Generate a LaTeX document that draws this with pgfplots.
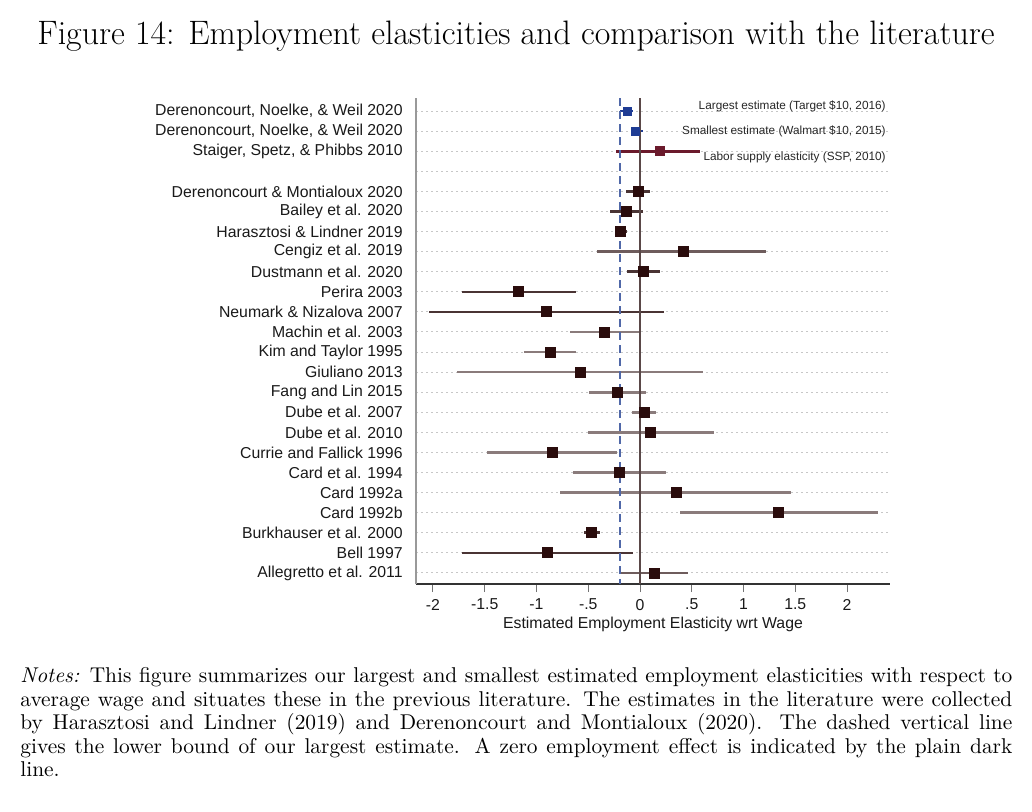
\documentclass[border=0pt]{standalone}
\usepackage{fontspec}
\usepackage{pgfplots}
\usepackage{pgfplotstable}
\pgfplotsset{compat=1.18}
\newfontfamily\plotfont{Liberation Sans}
\definecolor{cidark}{HTML}{4A3434}
\definecolor{cimed}{HTML}{6E5C5C}
\definecolor{cilight}{HTML}{8A7B7B}
\definecolor{markc}{HTML}{2A0C0C}
\definecolor{ownblue}{HTML}{1F3C94}
\definecolor{maroon}{HTML}{6B1A2C}
\definecolor{zeroc}{HTML}{5A4848}
\definecolor{dashc}{HTML}{5068A8}

% own estimates (rows 1-2), labour supply (row 3)
\pgfplotstableread{
row est lo hi
1 -0.12 -0.19 -0.07
2 -0.04 -0.09 0.03
}\own
\pgfplotstableread{
row est lo hi
3 0.19 -0.23 0.58
}\ssp
% literature
\pgfplotstableread{
row est lo hi
5 -0.02 -0.14 0.10
6 -0.135 -0.29 0.03
7 -0.19 -0.23 -0.13
9 0.03 -0.13 0.19
10 -1.17 -1.72 -0.62
11 -0.90 -2.04 0.23
22 -0.47 -0.54 -0.39
23 -0.89 -1.72 -0.065
}\litdark
\pgfplotstableread{
row est lo hi
8 0.42 -0.42 1.22
24 0.14 -0.18 0.46
}\litmed
\pgfplotstableread{
row est lo hi
12 -0.34 -0.68 0.00
13 -0.87 -1.12 -0.62
14 -0.58 -1.77 0.61
15 -0.22 -0.49 0.055
16 0.04 -0.08 0.155
17 0.097 -0.505 0.71
18 -0.85 -1.48 -0.22
19 -0.20 -0.65 0.25
20 0.35 -0.77 1.46
21 1.34 0.39 2.30
}\litlight

\pgfplotsset{
  cibar/.style={draw=none, mark=none, forget plot,
    error bars/.cd, x dir=both, x explicit, error mark=none,
    error bar style={draw=#1, line width=1.3bp}},
}

\begin{document}
\begin{tikzpicture}
\path[use as bounding box] (0,0) rectangle (516bp,406bp);
\node[anchor=base, inner sep=0] at (258bp,383.85bp)
  {\fontsize{16.95bp}{20bp}\selectfont Figure 14: Employment elasticities and comparison with the literature};
\begin{axis}[
  at={(208bp,114bp)}, anchor=south west,
  scale only axis, width=237bp, height=243bp,
  xmin=-2.164, xmax=2.415, ymin=0.35, ymax=24.55,
  y dir=reverse,
  axis x line*=bottom, axis y line*=left,
  x axis line style={-, draw=black!80, line width=0.6bp},
  y axis line style={-, draw=black!40, line width=0.8bp},
  xtick={-2,-1.5,-1,-0.5,0,0.5,1,1.5,2},
  xticklabels={-2,-1.5,-1,-.5,0,.5,1,1.5,2},
  ytick={1,...,24},
  yticklabels={{Derenoncourt, Noelke, \& Weil 2020},{Derenoncourt, Noelke, \& Weil 2020},{Staiger, Spetz, \& Phibbs 2010},{},
    {Derenoncourt \& Montialoux 2020},{Bailey et al. 2020},{Harasztosi \& Lindner 2019},{Cengiz et al. 2019},
    {Dustmann et al. 2020},{Perira 2003},{Neumark \& Nizalova 2007},{Machin et al. 2003},{Kim and Taylor 1995},
    {Giuliano 2013},{Fang and Lin 2015},{Dube et al. 2007},{Dube et al. 2010},{Currie and Fallick 1996},
    {Card et al. 1994},{Card 1992a},{Card 1992b},{Burkhauser et al. 2000},{Bell 1997},{Allegretto et al. 2011}},
  ymajorgrids,
  grid style={black!22, line width=0.5bp, dash pattern=on 0.8bp off 1.7bp},
  ytick style={draw=none},
  xtick style={draw=black!55, line width=0.5bp},
  tick align=outside, major tick length=4bp,
  ticklabel style={font=\plotfont\fontsize{7.9bp}{9bp}\selectfont, text=black!90},
  yticklabel style={inner sep=2.5bp},
  xlabel={Estimated Employment Elasticity wrt Wage},
  xlabel style={font=\plotfont\fontsize{7.9bp}{9bp}\selectfont, text=black!90, inner sep=0pt, yshift=0bp},
  clip=false,
]
% confidence intervals
\addplot[cibar=ownblue] table[x=est, y=row, x error plus expr=\thisrow{hi}-\thisrow{est}, x error minus expr=\thisrow{est}-\thisrow{lo}]{\own};
\addplot[cibar=maroon] table[x=est, y=row, x error plus expr=\thisrow{hi}-\thisrow{est}, x error minus expr=\thisrow{est}-\thisrow{lo}]{\ssp};
\addplot[cibar=cidark] table[x=est, y=row, x error plus expr=\thisrow{hi}-\thisrow{est}, x error minus expr=\thisrow{est}-\thisrow{lo}]{\litdark};
\addplot[cibar=cimed] table[x=est, y=row, x error plus expr=\thisrow{hi}-\thisrow{est}, x error minus expr=\thisrow{est}-\thisrow{lo}]{\litmed};
\addplot[cibar=cilight] table[x=est, y=row, x error plus expr=\thisrow{hi}-\thisrow{est}, x error minus expr=\thisrow{est}-\thisrow{lo}]{\litlight};
% reference lines
\addplot[zeroc, line width=1bp, mark=none, forget plot] coordinates {(0,0.35) (0,24.55)};
\addplot[dashc, line width=0.9bp, dash pattern=on 4bp off 2.5bp, mark=none, forget plot] coordinates {(-0.19,0.35) (-0.19,24.55)};
% point estimates
\addplot[only marks, mark=square*, mark size=2bp, color=ownblue] table[x=est, y=row]{\own};
\addplot[only marks, mark=square*, mark size=2.3bp, color=maroon] table[x=est, y=row]{\ssp};
\addplot[only marks, mark=square*, mark size=2.5bp, color=markc] table[x=est, y=row]{\litdark};
\addplot[only marks, mark=square*, mark size=2.5bp, color=markc] table[x=est, y=row]{\litmed};
\addplot[only marks, mark=square*, mark size=2.5bp, color=markc] table[x=est, y=row]{\litlight};
% annotations
\node[anchor=east, inner sep=0, font=\plotfont\fontsize{5.9bp}{7bp}\selectfont, text=black!85] at (axis cs:2.377,0.75) {Largest estimate (Target \$10, 2016)};
\node[anchor=east, inner sep=0, font=\plotfont\fontsize{5.9bp}{7bp}\selectfont, text=black!85] at (axis cs:2.377,2.03) {Smallest estimate (Walmart \$10, 2015)};
\node[anchor=east, inner sep=0, font=\plotfont\fontsize{5.9bp}{7bp}\selectfont, text=black!85] at (axis cs:2.377,3.29) {Labor supply elasticity (SSP, 2010)};
\end{axis}
\node[anchor=base west, inner sep=0] at (10bp,64.5bp) {\parbox[t]{496bp}{\fontsize{10.7bp}{11.75bp}\selectfont\parindent=0pt
\textit{Notes:} This figure summarizes our largest and smallest estimated employment elasticities with respect to\linebreak
average wage and situates these in the previous literature. The estimates in the literature were collected\linebreak
by Harasztosi and Lindner (2019) and Derenoncourt and Montialoux (2020). The dashed vertical line\linebreak
gives the lower bound of our largest estimate. A zero employment effect is indicated by the plain dark\linebreak
line.}};
\end{tikzpicture}
\end{document}
